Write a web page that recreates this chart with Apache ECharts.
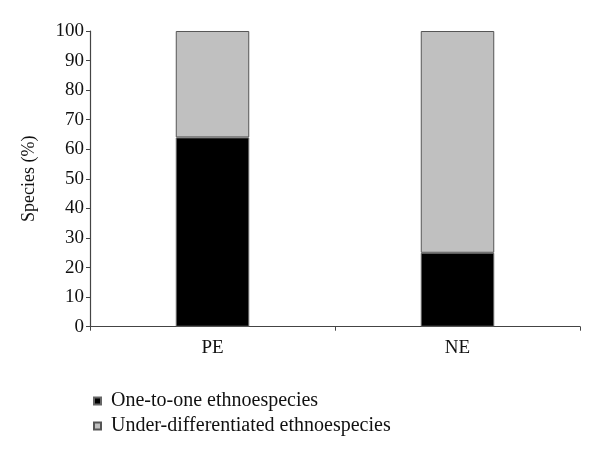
<!DOCTYPE html>
<html><head><meta charset="utf-8">
<script src="https://cdn.jsdelivr.net/npm/echarts@6/dist/echarts.min.js"></script>
<style>html,body{margin:0;padding:0;background:#fff}#c{width:600px;height:457px}</style>
</head><body><div id="c"></div>
<script>
const categories = ['PE', 'NE'];
const oneToOne = [64, 25];
const underDiff = [36, 75];
const seriesNames = ['One-to-one ethnoespecies', 'Under-differentiated ethnoespecies'];
const yTicks = [0, 10, 20, 30, 40, 50, 60, 70, 80, 90, 100];

const font = 'Liberation Serif';
const chart = echarts.init(document.getElementById('c'));
chart.setOption({
  animation: false,
  backgroundColor: '#fff',
  textStyle: { fontFamily: font },
  grid: { left: 90, right: 20, top: 31, bottom: 130.3, containLabel: false },
  legend: {
    orient: 'vertical', left: 88, top: 386,
    itemWidth: 7, itemHeight: 7, itemGap: 5, icon: 'rect',
    textStyle: { fontFamily: font, fontSize: 20, color: '#111', padding: [0, 0, 0, 5] },
    data: seriesNames
  },
  xAxis: {
    type: 'category', data: categories,
    axisLine: { lineStyle: { color: '#444', width: 1.2 } },
    axisTick: { show: true, length: 4, lineStyle: { color: '#444' } },
    axisLabel: { fontFamily: font, fontSize: 19, color: '#111', margin: 12 }
  },
  yAxis: {
    type: 'value', min: 0, max: 100, interval: 10,
    name: 'Species (%)', nameLocation: 'middle', nameGap: 52, nameRotate: 90,
    nameTextStyle: { fontFamily: font, fontSize: 18, color: '#111' },
    axisLine: { show: true, lineStyle: { color: '#444', width: 1.2 } },
    axisTick: { show: true, length: 4, lineStyle: { color: '#444' } },
    splitLine: { show: false },
    axisLabel: { fontFamily: font, fontSize: 19, color: '#111', margin: 6,
      formatter: v => yTicks.includes(v) ? String(v) : '' }
  },
  series: [
    { name: seriesNames[0], type: 'bar', stack: 's', data: oneToOne, barWidth: '30%',
      itemStyle: { color: '#000', borderColor: '#666', borderWidth: 1 } },
    { name: seriesNames[1], type: 'bar', stack: 's', data: underDiff, barWidth: '30%',
      itemStyle: { color: '#c0c0c0', borderColor: '#555', borderWidth: 1 } }
  ]
});
</script></body></html>
